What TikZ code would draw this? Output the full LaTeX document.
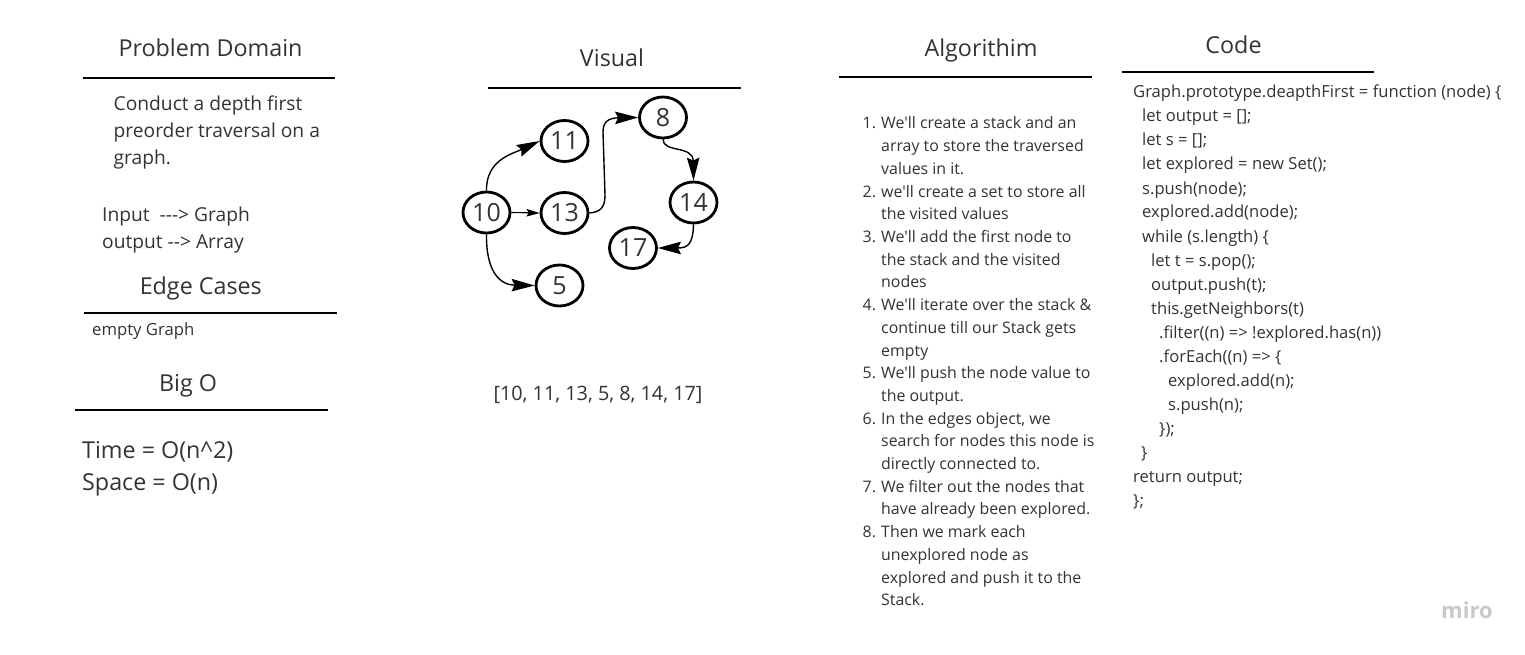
\documentclass[tikz,border=0pt]{standalone}
\usepackage{fontspec}
\setmainfont{Open Sans}
\newfontfamily\osans{Open Sans}
\usetikzlibrary{arrows.meta,shapes.geometric}
\definecolor{txt}{HTML}{333333}
\definecolor{logo}{HTML}{C8C8C8}
\begin{document}
\begin{tikzpicture}[x=1pt,y=-1pt,
  ttl/.style={anchor=base, inner sep=0, text=txt, font=\osans\fontsize{23.3}{27}\selectfont},
  rulel/.style={line width=2pt, draw=black},
  bodyt/.style={anchor=base west, inner sep=0, text=txt, font=\osans\fontsize{19.2}{26}\selectfont},
  bigt/.style={anchor=base west, inner sep=0, text=txt, font=\osans\fontsize{23.3}{30}\selectfont},
  smallt/.style={anchor=base west, inner sep=0, text=txt, font=\osans\fontsize{16.7}{20}\selectfont},
  algt/.style={anchor=base west, inner sep=0, text=txt, font=\osans\fontsize{15.9}{20}\selectfont},
  codet/.style={anchor=base west, inner sep=0, text=txt, font=\osans\fontsize{16.6}{20}\selectfont},
  gnode/.style={ellipse, draw=black, line width=2.8pt, minimum width=47pt, minimum height=41pt, inner sep=0, text=txt, font=\osans\fontsize{25}{25}\selectfont},
  arr/.style={-{Stealth[length=23pt,width=12.5pt,inset=3pt]}, line width=1.4pt, black},
  sarr/.style={-{Stealth[length=13pt,width=7.5pt,inset=2pt]}, line width=1.1pt, black}
]
\useasboundingbox[fill=white] (0,0) rectangle (1525,655);

% ---- Problem Domain column ----
\node[ttl] (tpd) at (210.5,56.7) {Problem Domain};
\draw[rulel] (82.7,78.3) -- (335,78.3);
\node[bodyt] (pd1) at (113.5,110.7) {Conduct a depth first};
\node[bodyt] (pd2) at (113.5,137.4) {preorder traversal on a};
\node[bodyt] (pd3) at (113.5,164.1) {graph.};
\node[bodyt] (pd4) at (102,221) {Input\ \ ---> Graph};
\node[bodyt] (pd5) at (102,248.3) {output --> Array};

\node[ttl] (tec) at (200.8,294.3) {Edge Cases};
\draw[rulel] (84,313.3) -- (336.7,313.3);
\node[smallt] (ec1) at (92,335) {empty Graph};

\node[ttl] (tbo) at (188,391) {Big O};
\draw[rulel] (75,410) -- (327.7,410);
\node[bigt] (bo1) at (82,458.3) {Time = O(n\^{}2)};
\node[bigt] (bo2) at (82,490.5) {Space = O(n)};

% ---- Visual column ----
\node[ttl] (tvi) at (612,66.7) {Visual};
\draw[rulel] (488,88.3) -- (740.7,88.3);

\node[gnode] (n10) at (486.5,212.5) {10};
\node[gnode] (n11) at (564.5,141) {11};
\node[gnode] (n13) at (564.5,213) {13};
\node[gnode] (n8)  at (663,117.5) {8};
\node[gnode] (n14) at (693.5,202.5) {14};
\node[gnode] (n17) at (633,248) {17};
\node[gnode] (n5)  at (559.5,285.5) {5};

\draw[arr] (n10.north) .. controls (486,160) and (512,154) .. (n11.west);
\draw[sarr] (n10.east) -- (n13.west);
\draw[arr] (n10.south) .. controls (486,272) and (500,285) .. (n5.west);
\draw[arr] (n13.east) .. controls (600,212) and (605,208) .. (605,195)
   -- (603,132) .. controls (603,122) and (608,118) .. (n8.west);
\draw[arr] (n8.south) .. controls (663,153) and (693,145) .. (n14.north);
\draw[arr] (n14.south) .. controls (693,244) and (688,248) .. (n17.east);

\node[anchor=base, inner sep=0, text=txt, font=\osans\fontsize{19.8}{22}\selectfont] (outp) at (598,400) {[10, 11, 13, 5, 8, 14, 17]};

% ---- Algorithm column ----
\node[ttl] (tal) at (981,56.7) {Algorithim};
\draw[rulel] (839,76.7) -- (1092,76.7);

\node[algt] (a1n) at (862.5,129.0) {1.};
\node[algt] (a1a) at (881,129.0) {We'll create a stack and an};
\node[algt] (a1b) at (881,151.7) {array to store the traversed};
\node[algt] (a1c) at (881,174.4) {values in it.};
\node[algt] (a2n) at (862.5,197.1) {2.};
\node[algt] (a2a) at (881,197.1) {we'll create a set to store all};
\node[algt] (a2b) at (881,219.8) {the visited values};
\node[algt] (a3n) at (862.5,242.5) {3.};
\node[algt] (a3a) at (881,242.5) {We'll add the first node to};
\node[algt] (a3b) at (881,265.2) {the stack and the visited};
\node[algt] (a3c) at (881,287.9) {nodes};
\node[algt] (a4n) at (862.5,310.6) {4.};
\node[algt] (a4a) at (881,310.6) {We'll iterate over the stack \&};
\node[algt] (a4b) at (881,333.3) {continue till our Stack gets};
\node[algt] (a4c) at (881,356.0) {empty};
\node[algt] (a5n) at (862.5,378.7) {5.};
\node[algt] (a5a) at (881,378.7) {We'll push the node value to};
\node[algt] (a5b) at (881,401.4) {the output.};
\node[algt] (a6n) at (862.5,424.1) {6.};
\node[algt] (a6a) at (881,424.1) {In the edges object, we};
\node[algt] (a6b) at (881,446.8) {search for nodes this node is};
\node[algt] (a6c) at (881,469.5) {directly connected to.};
\node[algt] (a7n) at (862.5,492.2) {7.};
\node[algt] (a7a) at (881,492.2) {We filter out the nodes that};
\node[algt] (a7b) at (881,514.9) {have already been explored.};
\node[algt] (a8n) at (862.5,537.6) {8.};
\node[algt] (a8a) at (881,537.6) {Then we mark each};
\node[algt] (a8b) at (881,560.3) {unexplored node as};
\node[algt] (a8c) at (881,583.0) {explored and push it to the};
\node[algt] (a8d) at (881,605.7) {Stack.};

% ---- Code column ----
\node[ttl] (tco) at (1233.5,53.3) {Code};
\draw[rulel] (1121.7,71.7) -- (1374,71.7);

\node[codet] (c1)  at (1133,98)  {Graph.prototype.deapthFirst = function (node) \{};
\node[codet] (c2)  at (1142,122) {let output = [];};
\node[codet] (c3)  at (1142,146) {let s = [];};
\node[codet] (c4)  at (1142,170) {let explored = new Set();};
\node[codet] (c5)  at (1142,194) {s.push(node);};
\node[codet] (c6)  at (1142,218) {explored.add(node);};
\node[codet] (c7)  at (1142,242) {while (s.length) \{};
\node[codet] (c8)  at (1151,266) {let t = s.pop();};
\node[codet] (c9)  at (1151,290) {output.push(t);};
\node[codet] (c10) at (1151,314) {this.getNeighbors(t)};
\node[codet] (c11) at (1159,338) {.filter((n) => !explored.has(n))};
\node[codet] (c12) at (1159,362) {.forEach((n) => \{};
\node[codet] (c13) at (1168,386) {explored.add(n);};
\node[codet] (c14) at (1168,410) {s.push(n);};
\node[codet] (c15) at (1159,434) {\});};
\node[codet] (c16) at (1141,458) {\}};
\node[codet] (c17) at (1133,482) {return output;};
\node[codet] (c18) at (1133,506) {\};};

\node[anchor=base west, inner sep=0, text=logo, font=\osans\fontsize{22}{22}\selectfont\bfseries] (miro) at (1441,618) {miro};
\end{tikzpicture}
\end{document}
